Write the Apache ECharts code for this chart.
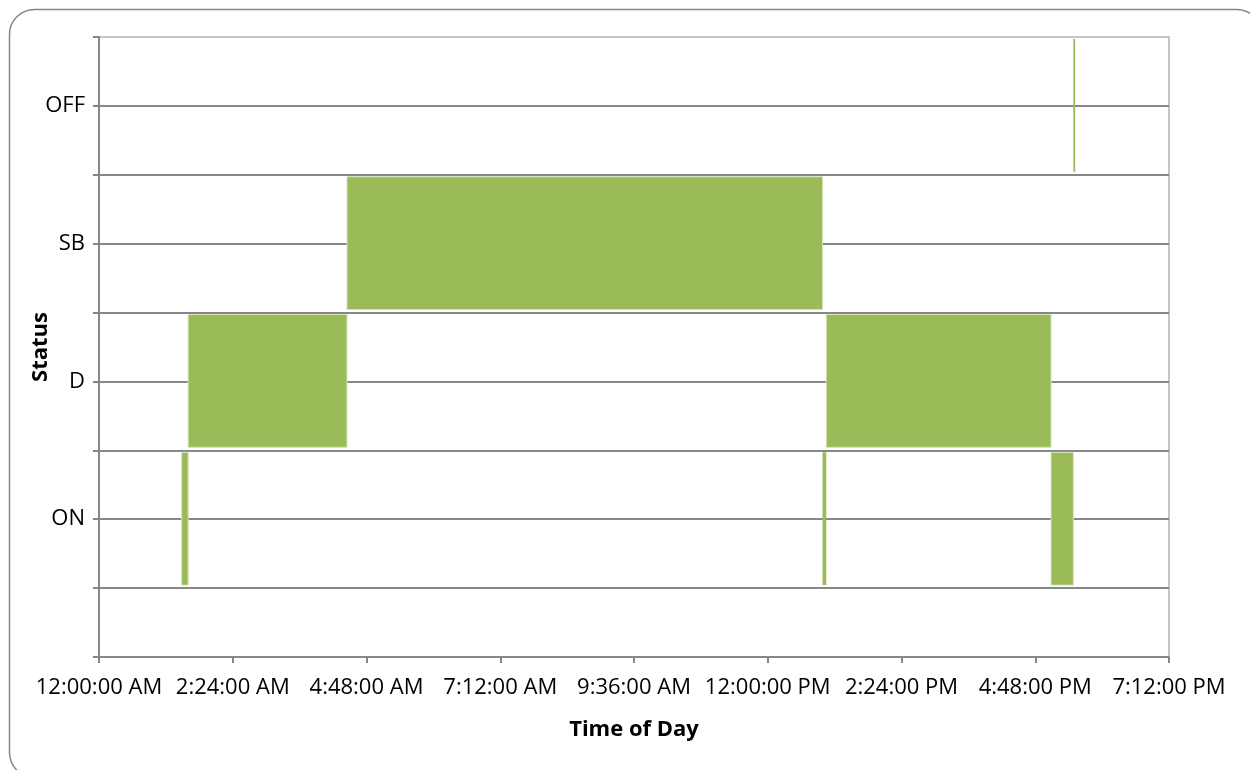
<!DOCTYPE html>
<html>
<head>
<meta charset="utf-8">
<script src="https://cdn.jsdelivr.net/npm/echarts@6/dist/echarts.min.js"></script>
<style>
  html, body { margin: 0; padding: 0; background: #fff; }
  #chart { width: 1250px; height: 770px; }
</style>
</head>
<body>
<div id="chart"></div>
<script>
// Duty status levels on the y axis (value 1..4)
const statusLevels = ['ON', 'D', 'SB', 'OFF'];

// Log segments: status and start/end time in minutes after midnight
const segStatus = ['ON', 'D', 'SB', 'ON', 'D', 'ON', 'OFF'];
const segStart  = [89, 96, 267, 779, 783, 1025, 1049];
const segEnd    = [96, 267, 779, 783, 1025, 1049, 1051];

// Time axis: 0 .. 19:12 with a tick every 2:24
const timeMin = 0;
const timeMax = 1152;
const timeStep = 144;

const FONT = '"Open Sans", "Liberation Sans", sans-serif';
const GRID_COLOR = '#878787';
const BAR_COLOR = '#9BBB59';

function fmtTime(m) {
  const h24 = Math.floor(m / 60);
  const mm = Math.round(m % 60);
  const ampm = h24 >= 12 && h24 < 24 ? 'PM' : 'AM';
  let h = h24 % 12;
  if (h === 0) h = 12;
  return h + ':' + String(mm).padStart(2, '0') + ':00 ' + ampm;
}

const segData = segStatus.map((s, i) => [segStart[i], segEnd[i], statusLevels.indexOf(s) + 1]);

const chart = echarts.init(document.getElementById('chart'), null, { renderer: 'canvas' });

chart.setOption({
  backgroundColor: '#ffffff',
  animation: false,
  graphic: [{
    type: 'rect',
    left: 7, top: 7,
    shape: { width: 1252, height: 768, r: 25 },
    style: { fill: 'none', stroke: '#868686', lineWidth: 1.5 },
    silent: true,
    z: -10
  }],
  grid: {
    left: 99, top: 37, width: 1070, height: 620,
    show: true,
    borderColor: '#c4c4c4',
    borderWidth: 2,
    backgroundColor: 'transparent'
  },
  xAxis: {
    type: 'value',
    min: timeMin,
    max: timeMax,
    interval: timeStep,
    name: 'Time of Day',
    nameLocation: 'middle',
    nameGap: 62,
    nameTextStyle: { fontFamily: FONT, fontSize: 22, fontWeight: 'bold', color: '#000' },
    axisLine: { show: true, lineStyle: { color: GRID_COLOR, width: 2 } },
    axisTick: { show: true, inside: false, length: 6, lineStyle: { color: GRID_COLOR, width: 2 } },
    axisLabel: {
      margin: 20,
      fontFamily: FONT, fontSize: 22, color: '#000',
      formatter: v => fmtTime(v),
      showMinLabel: true, showMaxLabel: true,
      hideOverlap: false
    },
    splitLine: { show: false }
  },
  yAxis: {
    type: 'value',
    min: 0,
    max: 4.5,
    interval: 0.5,
    name: 'Status',
    nameLocation: 'middle',
    nameGap: 47,
    nameRotate: 90,
    nameMoveOverlap: false,
    nameTextStyle: { fontFamily: FONT, fontSize: 22, fontWeight: 'bold', color: '#000' },
    axisLine: { show: true, lineStyle: { color: GRID_COLOR, width: 2 } },
    axisTick: { show: true, inside: false, length: 6, lineStyle: { color: GRID_COLOR, width: 2 } },
    axisLabel: {
      margin: 14,
      fontFamily: FONT, fontSize: 22, color: '#000',
      formatter: v => (Number.isInteger(v) && v >= 1 && v <= statusLevels.length) ? statusLevels[v - 1] : ''
    },
    splitLine: {
      show: true,
      showMinLine: false,
      showMaxLine: false,
      lineStyle: { color: GRID_COLOR, width: 2 }
    }
  },
  series: [{
    type: 'custom',
    data: segData,
    encode: { x: [0, 1], y: 2 },
    clip: true,
    renderItem: function (params, api) {
      const t0 = api.value(0), t1 = api.value(1), lvl = api.value(2);
      const pTop = api.coord([t0, lvl + 0.5]);
      const pBot = api.coord([t1, lvl - 0.5]);
      const x = pTop[0];
      const w = Math.max(pBot[0] - pTop[0], 1.5);
      const y = pTop[1] + 2;
      const h = (pBot[1] - 3) - y;
      return {
        type: 'rect',
        shape: { x: x, y: y, width: w, height: h },
        style: {
          fill: BAR_COLOR,
          stroke: w > 4 ? '#d6e3bc' : null,
          lineWidth: 1
        }
      };
    },
    z: 5
  }]
});
</script>
</body>
</html>
